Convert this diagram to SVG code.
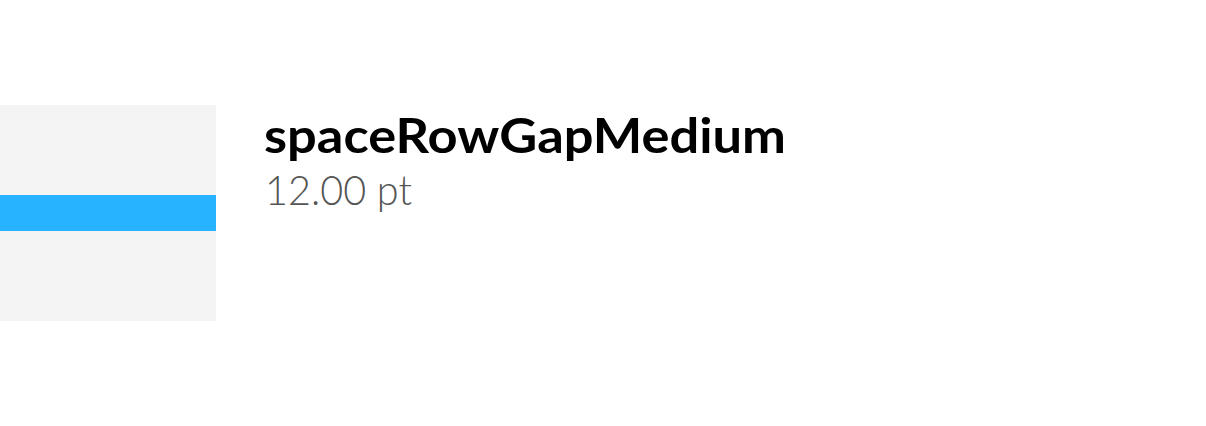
<svg xmlns="http://www.w3.org/2000/svg" width="1206" height="426" viewBox="0 0 1206 426">
<style>
.title{font-family:"Lato","Liberation Sans",sans-serif;font-weight:700;font-size:47px;fill:#000}
.sub{font-family:"Lato","Liberation Sans",sans-serif;font-weight:300;font-size:41px;fill:#555}
</style>
<rect width="1206" height="426" fill="#fff"/>
<g id="swatch">
<rect x="0" y="105" width="216" height="216" fill="#f4f4f4"/>
<rect x="0" y="195" width="216" height="36" fill="#27b3ff"/>
</g>
<g id="label">
<text class="title" x="264" y="153" textLength="522" lengthAdjust="spacingAndGlyphs">spaceRowGapMedium</text>
<text class="sub" x="265" y="205" textLength="147" lengthAdjust="spacingAndGlyphs">12.00 pt</text>
</g>
</svg>
